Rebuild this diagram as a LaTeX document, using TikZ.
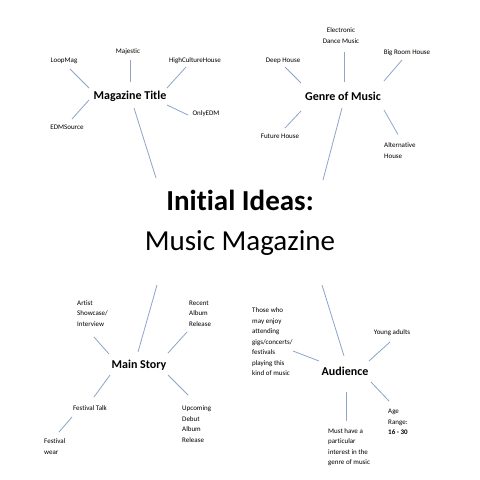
\documentclass[tikz,border=0pt]{standalone}
\usepackage{fontspec}
\setmainfont[Ligatures=NoCommon]{Carlito}
\definecolor{linkblue}{RGB}{140,165,200}
\begin{document}
\begin{tikzpicture}[x=1pt,y=-1pt,
  small/.style={inner sep=0pt,font=\fontsize{7}{10.5}\selectfont,align=left},
  hub/.style={inner sep=0pt,font=\fontsize{12}{14}\selectfont\bfseries},
  link/.style={draw=linkblue,line width=0.8pt}]
\useasboundingbox[fill=white] (0,0) rectangle (480,480);
% title
\node[inner sep=0pt,font=\fontsize{29}{34}\selectfont\bfseries] (init) at (240,200) {Initial Ideas:};
\node[inner sep=0pt,font=\fontsize{29}{34}\selectfont] (mm) at (240,243) {Music Magazine};
% hubs
\node[hub] (mag) at (130,96) {Magazine Title};
\node[hub] (gen) at (343,96) {Genre of Music};
\node[hub] (sto) at (139,365) {Main Story};
\node[hub] (aud) at (345,371) {Audience};
% magazine title leaves
\node[small] (maj) at (128,52) {Majestic};
\node[small] (loop) at (64,61) {LoopMag};
\node[small] (hch) at (195,61) {HighCultureHouse};
\node[small] (oedm) at (206,114) {OnlyEDM};
\node[small] (edms) at (67,127) {EDMSource};
% genre leaves
\node[small,align=center] (edm) at (341,35.5) {Electronic\\Dance Music};
\node[small] (deep) at (283,61) {Deep House};
\node[small] (big) at (407,53) {Big Room House};
\node[small] (fut) at (280,136) {Future House};
\node[small,anchor=west] (alt) at (384,150.5) {Alternative\\House};
% main story leaves
\node[small,anchor=west] (art) at (77,313.5) {Artist\\Showcase/\\Interview};
\node[small,anchor=west] (rec) at (189,313.5) {Recent\\Album\\Release};
\node[small] (ftalk) at (90,408) {Festival Talk};
\node[small,anchor=west] (fwear) at (44,446.5) {Festival\\wear};
\node[small,anchor=west] (upc) at (182,424) {Upcoming\\Debut\\Album\\Release};
% audience leaves
\node[small,anchor=west] (those) at (252,342) {Those who\\may enjoy\\attending\\gigs/concerts/\\festivals\\playing this\\kind of music};
\node[small] (young) at (392,333) {Young adults};
\node[small,anchor=west] (age) at (388,422) {Age\\Range:\\\textbf{16 - 30}};
\node[small,anchor=west] (must) at (328,447) {Must have a\\particular\\interest in the\\genre of music};
% magazine title links
\draw[link] ([shift={(2,8)}]maj.center) -- ([shift={(0,-14)}]mag.center);
\draw[link] ([shift={(6,8)}]loop.center) -- ([shift={(-41,-8)}]mag.center);
\draw[link] ([shift={(-9,6)}]hch.center) -- ([shift={(37,-8)}]mag.center);
\draw[link] ([shift={(-18,1)}]oedm.center) -- ([shift={(37,9)}]mag.center);
\draw[link] ([shift={(5,-8)}]edms.center) -- ([shift={(-41,4)}]mag.center);
\draw[link] ([shift={(4,12)}]mag.center) -- ([shift={(-84,-22)}]init.center);
% genre links
\draw[link] ([shift={(3,16.5)}]edm.center) -- ([shift={(1,-14)}]gen.center);
\draw[link] ([shift={(2,6)}]deep.center) -- ([shift={(-42,-13)}]gen.center);
\draw[link] ([shift={(-5,7)}]big.center) -- ([shift={(41,-15)}]gen.center);
\draw[link] ([shift={(5,-8)}]fut.center) -- ([shift={(-42,15)}]gen.center);
\draw[link] ([shift={(14,-16)}]alt.west) -- ([shift={(41,14)}]gen.center);
\draw[link] ([shift={(-1,12)}]gen.center) -- ([shift={(83,-20)}]init.center);
% main story links
\draw[link] ([shift={(-83,42)}]mm.center) -- ([shift={(-1,-13)}]sto.center);
\draw[link] ([shift={(17,23.5)}]art.west) -- ([shift={(-30,-11)}]sto.center);
\draw[link] ([shift={(-2,18.5)}]rec.west) -- ([shift={(29,-12)}]sto.center);
\draw[link] ([shift={(-29,10)}]sto.center) -- ([shift={(4,-11)}]ftalk.center);
\draw[link] ([shift={(-18,9)}]ftalk.center) -- ([shift={(15,-14.5)}]fwear.west);
\draw[link] ([shift={(29,10)}]sto.center) -- ([shift={(6,-29)}]upc.west);
% audience links
\draw[link] ([shift={(82,42)}]mm.center) -- ([shift={(-1,-15)}]aud.center);
\draw[link] ([shift={(41,9)}]those.west) -- ([shift={(-26,-10)}]aud.center);
\draw[link] ([shift={(-2,9)}]young.center) -- ([shift={(24,-10)}]aud.center);
\draw[link] ([shift={(26,11)}]aud.center) -- ([shift={(1,-21)}]age.west);
\draw[link] ([shift={(1,21)}]aud.center) -- ([shift={(18,-26)}]must.west);
\end{tikzpicture}
\end{document}
